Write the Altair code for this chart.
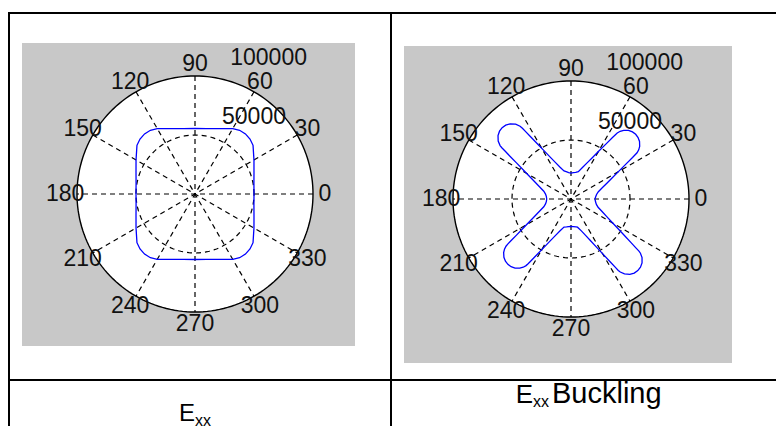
import altair as alt
import pandas as pd
import numpy as np

# ---------------------------------------------------------------------------
# Data: in-plane modulus Exx versus direction angle (deg)
# ---------------------------------------------------------------------------
exx_angle = [0, 10, 20, 30, 40, 45, 50, 55, 60, 70, 80, 90,
             100, 110, 120, 125, 130, 135, 140, 150, 160, 170, 180,
             190, 200, 210, 220, 225, 230, 235, 240, 250, 260, 270,
             280, 290, 300, 305, 310, 315, 320, 330, 340, 350, 360]
exx_value = [50000, 50700, 53200, 57700, 64200, 65900, 66500, 65900, 64000, 59000, 56300, 55500,
             56300, 59000, 64000, 65900, 66500, 65900, 64200, 57700, 53200, 50700, 50000,
             50700, 53200, 57700, 64200, 65900, 66500, 65900, 64000, 59000, 56300, 55500,
             56300, 59000, 64000, 65900, 66500, 65900, 64200, 57700, 53200, 50700, 50000]

# Exx after buckling: four lobes near 45, 134, 226 and 313 degrees
buck_angle = [0, 5, 10, 15, 20, 24, 27, 30, 32.5, 34, 35, 36, 37.5, 40, 42.5, 45,
              47.5, 50, 52.5, 54, 55, 56, 57.5, 60, 63, 66, 70, 75, 80, 85, 90,
              95, 100, 104, 109, 113, 116, 119, 121.5, 123, 124, 124.5, 125, 126.5, 129, 131.5, 134,
              136.5, 139, 141.5, 143, 143.5, 144, 145, 146.5, 149, 152, 155, 159, 164, 169, 174, 180,
              186, 191, 196, 201, 205, 208, 211, 213.5, 215, 215.5, 216, 217, 218.5, 221, 223.5, 226,
              228.5, 231, 233.5, 235, 236, 236.5, 237, 238.5, 241, 244, 247, 251, 256, 261, 265, 270,
              275, 280, 283, 288, 292, 295, 298, 300.5, 302, 303, 303.5, 304, 305.5, 308, 310.5, 313,
              315.5, 318, 320.5, 322, 322.5, 323, 324, 325.5, 328, 331, 334, 338, 343, 348, 353, 360]
buck_value = [20300, 21000, 22000, 24000, 28400, 33500, 38800, 46400, 55400, 62900, 68330, 70940,
              73360, 75810, 77090, 77500,
              77090, 75810, 73360, 70940, 68330, 62900, 55400, 46400, 38800, 33500, 28400, 24000,
              23000, 22500, 22000,
              22500, 23500, 24500, 28400, 33500, 38800, 46400, 55400, 62900, 69100, 72680, 75250,
              78850, 81950, 83510, 84000,
              83510, 81950, 78850, 75250, 72680, 69100, 62900, 55400, 46400, 38800, 33500, 28400,
              24000, 22000, 21000, 20600,
              21000, 22000, 24000, 28400, 33500, 38800, 46400, 55400, 62900, 65860, 68090, 70570,
              72930, 75330, 76600, 77000,
              76600, 75330, 72930, 70570, 68090, 65860, 62900, 55400, 46400, 38800, 33500, 28400,
              24500, 24000, 23500, 23200,
              23500, 24000, 24500, 28400, 33500, 38800, 46400, 55400, 62900, 69100, 72600, 74670,
              78020, 81010, 82530, 83000,
              82530, 81010, 78020, 74670, 72600, 69100, 62900, 55400, 46400, 38800, 33500, 28400,
              24000, 22000, 21000, 20300]

# Polar grid annotation
spoke_angles = [0, 30, 60, 90, 120, 150]
tick_angles = [0, 30, 60, 90, 120, 150, 180, 210, 240, 270, 300, 330]
tick_labels = ["0", "30", "60", "90", "120", "150", "180", "210", "240", "270", "300", "330"]
ring_values = [50000, 100000]
ring_labels = ["50000", "100000"]

W, H = 776, 426
R_MAX = 100000
PX_PER_UNIT = 118 / R_MAX
FONT = "Liberation Sans"
GRAY = "#c8c8c8"
INK = "#111111"
LABEL_SIZE = 23


def one_row():
    return pd.DataFrame({"k": [0]})


def polar_plot(angles, values, cx, cy, gray_box):
    """Polar axes centred on page pixel (cx, cy), drawn through x/y scales."""
    xs = alt.Scale(domain=[-cx / PX_PER_UNIT, (W - cx) / PX_PER_UNIT], nice=False, zero=False)
    ys = alt.Scale(domain=[-(H - cy) / PX_PER_UNIT, cy / PX_PER_UNIT], nice=False, zero=False)

    def X(f):
        return alt.X(f, type="quantitative", scale=xs, axis=None)

    def Y(f):
        return alt.Y(f, type="quantitative", scale=ys, axis=None)

    gx0, gy0, gx1, gy1 = gray_box
    gray = alt.Chart(one_row()).mark_rect(color=GRAY).encode(
        x=alt.value(gx0), x2=alt.value(gx1), y=alt.value(gy0), y2=alt.value(gy1))

    circ = pd.DataFrame({"t": np.arange(0, 361, 2)})
    half = pd.DataFrame({"t": np.arange(0, 181, 1)})

    disk = alt.Chart(half).transform_calculate(
        x=f"{R_MAX} * cos(datum.t * PI / 180)",
        yt=f"{R_MAX} * sin(datum.t * PI / 180)",
        yb=f"-{R_MAX} * sin(datum.t * PI / 180)",
    ).mark_area(color="white", opacity=1).encode(x=X("x"), y=Y("yt"), y2=alt.Y2("yb"))

    spokes = alt.Chart(pd.DataFrame({"a": spoke_angles})).transform_calculate(
        x=f"{R_MAX} * cos(datum.a * PI / 180)",
        y=f"{R_MAX} * sin(datum.a * PI / 180)",
        xe=f"-{R_MAX} * cos(datum.a * PI / 180)",
        ye=f"-{R_MAX} * sin(datum.a * PI / 180)",
    ).mark_rule(color="black", strokeWidth=1.2, strokeDash=[5, 4]).encode(
        x=X("x"), y=Y("y"), x2=alt.X2("xe"), y2=alt.Y2("ye"))

    inner = alt.Chart(circ).transform_calculate(
        x=f"{ring_values[0]} * cos(datum.t * PI / 180)",
        y=f"{ring_values[0]} * sin(datum.t * PI / 180)",
    ).mark_line(color="black", strokeWidth=1.2, strokeDash=[5, 4]).encode(
        x=X("x"), y=Y("y"), order="t:Q")

    outer = alt.Chart(circ).transform_calculate(
        x=f"{R_MAX} * cos(datum.t * PI / 180)",
        y=f"{R_MAX} * sin(datum.t * PI / 180)",
    ).mark_line(color="black", strokeWidth=1.4).encode(
        x=X("x"), y=Y("y"), order="t:Q")

    curve_df = pd.DataFrame({"angle": angles, "value": values, "i": range(len(angles))})
    curve = alt.Chart(curve_df).transform_calculate(
        x="datum.value * cos(datum.angle * PI / 180)",
        y="datum.value * sin(datum.angle * PI / 180)",
    ).mark_line(color="#0000ff", strokeWidth=1.3).encode(
        x=X("x"), y=Y("y"), order="i:Q")

    ticks = alt.Chart(pd.DataFrame({"a": tick_angles, "lab": tick_labels})).transform_calculate(
        x=f"1.1 * {R_MAX} * cos(datum.a * PI / 180)",
        y=f"1.1 * {R_MAX} * sin(datum.a * PI / 180)",
    ).mark_text(font=FONT, fontSize=LABEL_SIZE, color=INK, align="center", baseline="middle").encode(
        x=X("x"), y=Y("y"), text="lab:N")

    # ring labels sit just past each ring, along the 82-degree direction
    rings = alt.Chart(pd.DataFrame({"r": ring_values, "lab": ring_labels})).transform_calculate(
        x="(datum.r + 5000) * cos(82 * PI / 180)",
        y="(datum.r + 5000) * sin(82 * PI / 180)",
        txt="'  ' + datum.lab",
    ).mark_text(font=FONT, fontSize=LABEL_SIZE, color=INK, align="left", baseline="bottom",
                dx=18, dy=-1).encode(
        x=X("x"), y=Y("y"), text="txt:N")

    return alt.layer(gray, disk, spokes, inner, outer, curve, ticks, rings)


left = polar_plot(exx_angle, exx_value, cx=195, cy=194, gray_box=(22, 43, 355, 346))
right = polar_plot(buck_angle, buck_value, cx=571, cy=199, gray_box=(404, 46, 732, 363))

# table frame
frame_lines = [(8, 13, W, 13), (9, 13, 9, H), (391, 13, 391, H), (9, 380, W, 380)]
frame = [
    alt.Chart(one_row()).mark_rule(color="black", strokeWidth=2).encode(
        x=alt.value(x0), y=alt.value(y0), x2=alt.value(x1), y2=alt.value(y1))
    for (x0, y0, x1, y1) in frame_lines
]

# cell captions (main letter + subscript)
caption_parts = [("E", 195, 421, 24, "right"), ("xx", 195, 426, 16, "left"),
                 ("E", 533, 403, 26, "right"), ("xx", 533, 407, 16, "left"),
                 ("Buckling", 552, 403, 29, "left")]
captions = [
    alt.Chart(one_row()).mark_text(text=txt, font=FONT, fontSize=fs, color="black",
                                   align=al, baseline="alphabetic").encode(
        x=alt.value(px), y=alt.value(py))
    for (txt, px, py, fs, al) in caption_parts
]

plots = alt.layer(left, right).resolve_scale(x="independent", y="independent")

chart = alt.layer(plots, *frame, *captions).properties(
    width=W, height=H,
    padding=0,
    autosize="none",
    background="white",
).configure_view(stroke=None)

chart.save("out.html", embed_options={"renderer": "svg", "actions": False})
